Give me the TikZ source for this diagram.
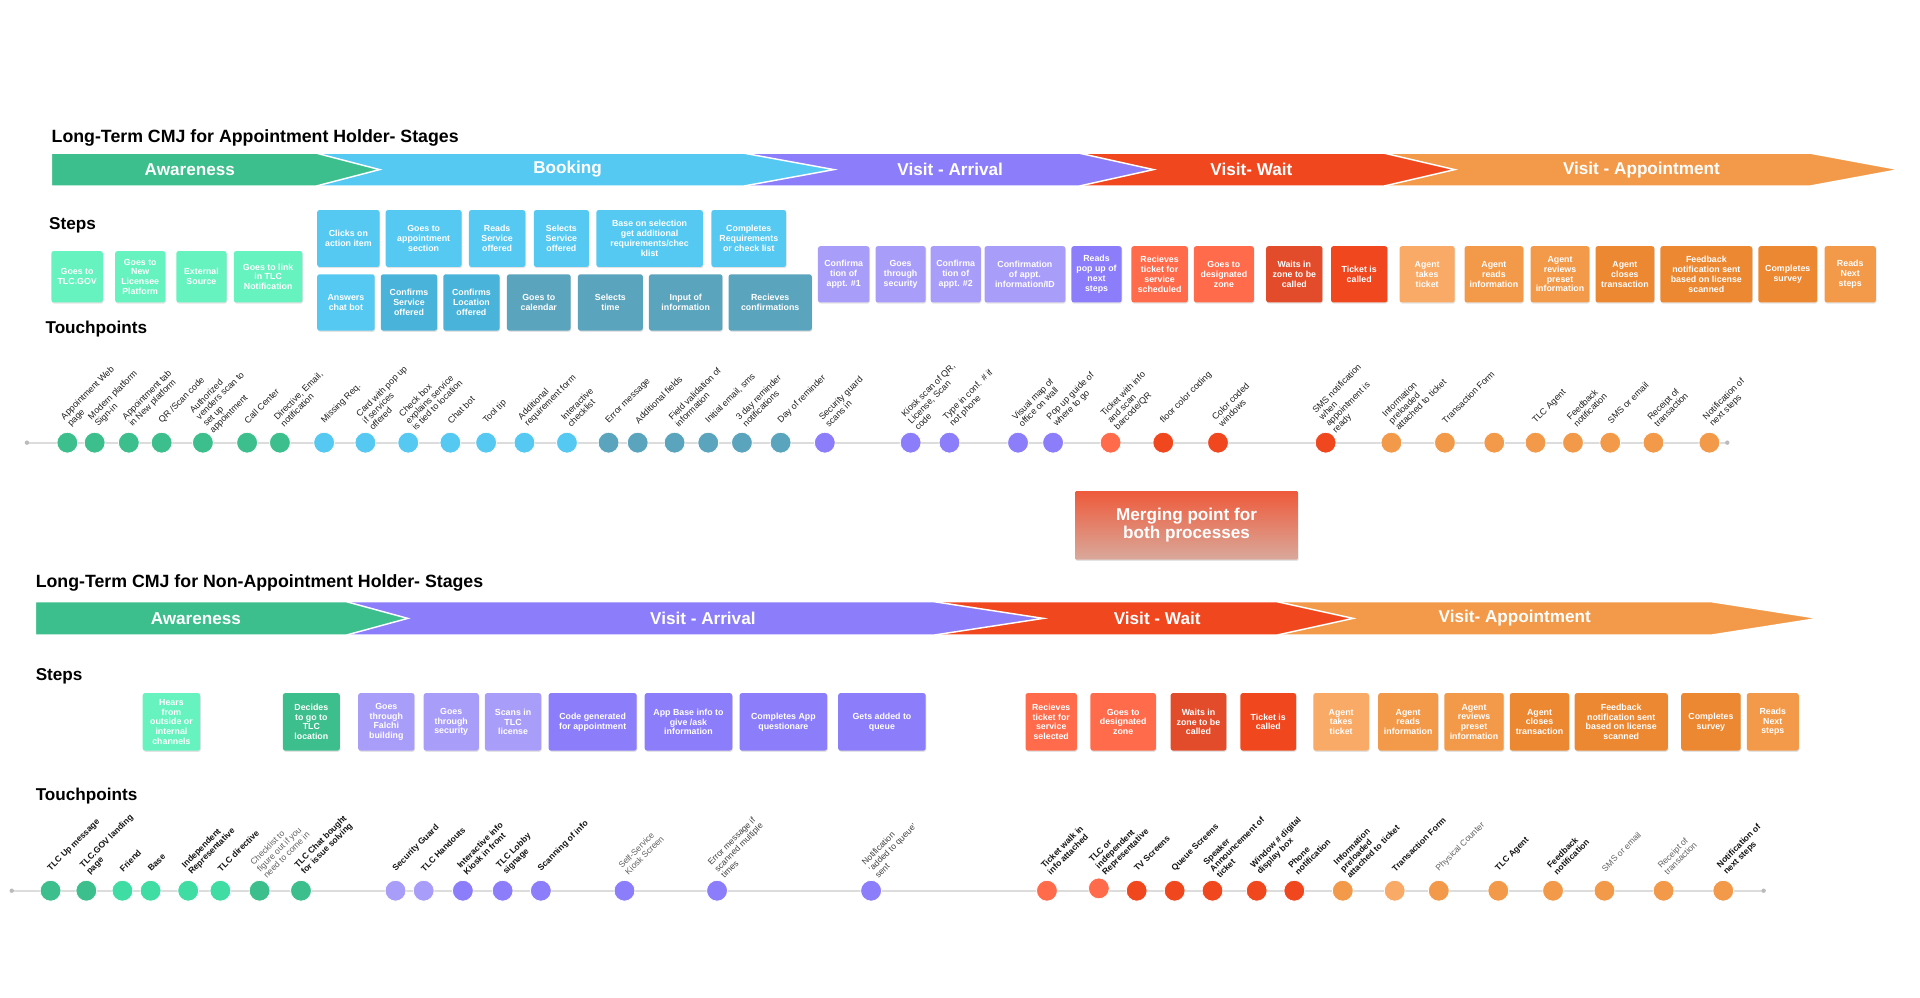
\documentclass[tikz,border=0pt]{standalone}
\usepackage{fontspec}
\setmainfont{Liberation Sans}
\usetikzlibrary{shadows}
\definecolor{cGreen}{HTML}{3CBF8C}
\definecolor{cMint}{HTML}{66F3C0}
\definecolor{cMintDot}{HTML}{3FDCA3}
\definecolor{cBlue}{HTML}{55C9F1}
\definecolor{cMidBlue}{HTML}{4AB3D9}
\definecolor{cTeal}{HTML}{5AA4BD}
\definecolor{cPurple}{HTML}{8C7DFB}
\definecolor{cLPurple}{HTML}{A99DFA}
\definecolor{cCoral}{HTML}{FF6B4B}
\definecolor{cRed}{HTML}{F0471F}
\definecolor{cDRed}{HTML}{E34C2B}
\definecolor{cOrange}{HTML}{F39A4A}
\definecolor{cLOrange}{HTML}{F8AA66}
\definecolor{cDOrange}{HTML}{EC8832}
\definecolor{cLine}{HTML}{DCDCDC}
\definecolor{cDot}{HTML}{BBBBBB}
\definecolor{cMergeTop}{HTML}{EE5A3B}
\definecolor{cMergeBot}{HTML}{D9A99B}
\newcommand\seg[6]{\filldraw[fill=#6,draw=white,line width=1.2pt,line join=miter] (#1,#4) -- (#2,#4) -- (#3,{(#4+#5)/2}) -- (#2,#5) -- (#1,#5) -- cycle;}
\newcommand\stp[7]{\node[stepbox,fill=#2,minimum width={#4-#3},minimum height=#6] (#1) at ({(#3+#4)/2},#5) {#7};}
\newcommand\tpt[6]{\node[tpdot,fill=#4] (#1) at (#2,#3) {};
  \node[#5] (#1l) at ({#2-1.5},{#3-16.5}) {#6};}
\begin{document}
\begin{tikzpicture}[x=1pt,y=-1pt,
  stepbox/.style={rounded corners=2pt, text=white, font=\bfseries\fontsize{7.2}{8}\selectfont, align=center, inner sep=1pt, drop shadow={shadow xshift=0.5pt, shadow yshift=-1pt, opacity=0.22}},
  stagelbl/.style={text=white, font=\bfseries\fontsize{14}{14}\selectfont, inner sep=0},
  heading/.style={anchor=west, font=\bfseries\fontsize{14.5}{15}\selectfont, inner sep=0},
  tpdot/.style={circle, minimum size=17pt, inner sep=0, draw=white, line width=0.6pt},
  tplbl/.style={rotate=45, anchor=west, align=left, inner sep=0.5pt, font=\fontsize{7.3}{7.7}\selectfont, text=black!88},
  tplblb/.style={tplbl, font=\bfseries\fontsize{7}{7.6}\selectfont, text=black!92},
  tplblg/.style={tplbl, font=\fontsize{7}{7.6}\selectfont, text=black!62},
  tplbld/.style={tplbl, font=\fontsize{7}{7.6}\selectfont, text=black!75},
  tpline/.style={draw=cLine, line width=1.5pt}]
\useasboundingbox (0,0) rectangle (1568,815);

% ---------------- TOP: Appointment holder ----------------
\node[heading] (title1) at (42,113) {Long-Term CMJ for Appointment Holder- Stages};
\seg{1130}{1478}{1551}{125}{152}{cOrange}
\seg{881}{1130}{1188}{125}{152}{cRed}
\seg{607}{881}{942}{125}{152}{cPurple}
\seg{258}{607}{681}{125}{152}{cBlue}
\seg{42}{258}{310}{125}{152}{cGreen}
\node[stagelbl] (s1a) at (155,138.5) {Awareness};
\node[stagelbl] (s1b) at (463.5,138.5) {Booking};
\node[stagelbl] (s1c) at (776,138.5) {Visit - Arrival};
\node[stagelbl] (s1d) at (1022,138.5) {Visit- Wait};
\node[stagelbl] (s1e) at (1340.5,138.5) {Visit - Appointment};

\node[heading,font=\bfseries\fontsize{14}{14}\selectfont] (steps1) at (40,184) {Steps};
\node[heading,font=\bfseries\fontsize{14}{14}\selectfont] (touch1) at (37,269) {Touchpoints};

% steps top
\stp{a1}{cMint}{42}{84}{226}{42}{Goes to\\TLC.GOV}
\stp{a2}{cMint}{94}{135}{226}{42}{Goes to\\New\\Licensee\\Platform}
\stp{a3}{cMint}{144}{185}{226}{42}{External\\Source}
\stp{a4}{cMint}{191}{247}{226}{42}{Goes to link\\in TLC\\Notification}
\stp{a5}{cBlue}{259}{310}{194.75}{46.5}{Clicks on\\action item}
\stp{a6}{cBlue}{315}{377}{194.75}{46.5}{Goes to\\appointment\\section}
\stp{a7}{cBlue}{383}{429}{194.75}{46.5}{Reads\\Service\\offered}
\stp{a8}{cBlue}{436}{481}{194.75}{46.5}{Selects\\Service\\offered}
\stp{a9}{cBlue}{487}{574}{194.75}{46.5}{Base on selection\\get additional\\requirements/chec\\klist}
\stp{a10}{cBlue}{581}{642}{194.75}{46.5}{Completes\\Requirements\\or check list}
\stp{a11}{cBlue}{259}{306}{247}{46}{Answers\\chat bot}
\stp{a12}{cMidBlue}{311}{357}{247}{46}{Confirms\\Service\\offered}
\stp{a13}{cMidBlue}{362}{408}{247}{46}{Confirms\\Location\\offered}
\stp{a14}{cTeal}{414}{466}{247}{46}{Goes to\\calendar}
\stp{a15}{cTeal}{472}{525}{247}{46}{Selects\\time}
\stp{a16}{cTeal}{530}{590}{247}{46}{Input of\\information}
\stp{a17}{cTeal}{595}{663}{247}{46}{Recieves\\confirmations}
\stp{a18}{cLPurple}{668}{710}{224}{46}{Confirma\\tion of\\appt. \#1}
\stp{a19}{cLPurple}{715}{756}{224}{46}{Goes\\through\\security}
\stp{a20}{cLPurple}{760}{801}{224}{46}{Confirma\\tion of\\appt. \#2}
\stp{a21}{cLPurple}{804}{870}{224}{46}{Confirmation\\of appt.\\information/ID}
\stp{a22}{cPurple}{875}{916}{224}{46}{Reads\\pop up of\\next\\steps}
\stp{a23}{cCoral}{924}{970}{224}{46}{Recieves\\ticket for\\service\\scheduled}
\stp{a24}{cCoral}{975}{1024}{224}{46}{Goes to\\designated\\zone}
\stp{a25}{cDRed}{1034}{1080}{224}{46}{Waits in\\zone to be\\called}
\stp{a26}{cRed}{1087}{1133}{224}{46}{Ticket is\\called}
\stp{a27}{cLOrange}{1143}{1188}{224}{46}{Agent\\takes\\ticket}
\stp{a28}{cOrange}{1196}{1244}{224}{46}{Agent\\reads\\information}
\stp{a29}{cOrange}{1250}{1298}{224}{46}{Agent\\reviews\\preset\\information}
\stp{a30}{cDOrange}{1303}{1351}{224}{46}{Agent\\closes\\transaction}
\stp{a31}{cDOrange}{1356}{1431}{224}{46}{Feedback\\notification sent\\based on license\\scanned}
\stp{a32}{cDOrange}{1436}{1484}{224}{46}{Completes\\survey}
\stp{a33}{cOrange}{1490}{1532}{224}{46}{Reads\\Next\\steps}

% touchpoints top
\coordinate (ts1) at (22,361.5);
\coordinate (te1) at (1410.6,361.5);
\draw[tpline] (ts1) -- (te1);
\fill[cDot] (ts1) circle (1.8);
\fill[cDot] (te1) circle (1.8);
\tpt{t1}{55}{361.5}{cGreen}{tplbl}{Appointment Web\\page}
\tpt{t2}{77.3}{361.5}{cGreen}{tplbl}{Modern platform\\Sign-in}
\tpt{t3}{105.2}{361.5}{cGreen}{tplbl}{Appointment tab\\in New platform}
\tpt{t4}{132}{361.5}{cGreen}{tplbl}{QR /Scan code}
\tpt{t5}{165.7}{361.5}{cGreen}{tplbl}{Authorized\\venders scan to\\set up\\appointment}
\tpt{t6}{201.8}{361.5}{cGreen}{tplbl}{Call Center}
\tpt{t7}{228.6}{361.5}{cGreen}{tplbl}{Directive, Email,\\notification}
\tpt{t8}{264.7}{361.5}{cBlue}{tplbl}{Missing Req.}
\tpt{t9}{298.4}{361.5}{cBlue}{tplbl}{Card with pop up\\if services\\offered}
\tpt{t10}{333.4}{361.5}{cBlue}{tplbl}{Check box\\explains service\\is tied to location}
\tpt{t11}{367.8}{361.5}{cBlue}{tplbl}{Chat bot}
\tpt{t12}{397}{361.5}{cBlue}{tplbl}{Tool tip}
\tpt{t13}{428.3}{361.5}{cBlue}{tplbl}{Additional\\requirement form}
\tpt{t14}{463}{361.5}{cBlue}{tplbl}{Interactive\\checklist}
\tpt{t15}{497}{361.5}{cTeal}{tplbl}{Error message}
\tpt{t16}{520.8}{361.5}{cTeal}{tplbl}{Additional fields}
\tpt{t17}{550.9}{361.5}{cTeal}{tplbl}{Field validation of\\information}
\tpt{t18}{578.4}{361.5}{cTeal}{tplbl}{Initial email, sms}
\tpt{t19}{605.9}{361.5}{cTeal}{tplbl}{3 day reminder\\notifications}
\tpt{t20}{637.5}{361.5}{cTeal}{tplbl}{Day of reminder}
\tpt{t21}{673.6}{361.5}{cPurple}{tplbl}{Security guard\\scans in}
\tpt{t22}{743.7}{361.5}{cPurple}{tplbl}{Kiosk scan of QR,\\License, Scan\\code}
\tpt{t23}{775.4}{361.5}{cPurple}{tplbl}{Type in conf. \# if\\not phone}
\tpt{t24}{831.4}{361.5}{cPurple}{tplbl}{Visual map of\\office on wall}
\tpt{t25}{860}{361.5}{cPurple}{tplbl}{Pop up guide of\\where to go}
\tpt{t26}{907}{361.5}{cCoral}{tplbl}{Ticket with info\\and scan\\barcode/QR}
\tpt{t27}{950}{361.5}{cRed}{tplbl}{floor color coding}
\tpt{t28}{994.7}{361.5}{cRed}{tplbl}{Color coded\\windows}
\tpt{t29}{1082.6}{361.5}{cRed}{tplbl}{SMS notification\\when\\appointment is\\ready}
\tpt{t30}{1136.3}{361.5}{cOrange}{tplbl}{Information\\preloaded\\attached to ticket}
\tpt{t31}{1180}{361.5}{cOrange}{tplbl}{Transaction Form}
\node[tpdot,fill=cOrange] (t32) at (1220.3,361.5) {};
\tpt{t33}{1254}{361.5}{cOrange}{tplbl}{TLC Agent}
\tpt{t34}{1284.6}{361.5}{cOrange}{tplbl}{Feedback\\notification}
\tpt{t35}{1315}{361.5}{cOrange}{tplbl}{SMS or email}
\tpt{t36}{1350.3}{361.5}{cOrange}{tplbl}{Receipt of\\transaction}
\tpt{t37}{1396}{361.5}{cOrange}{tplbl}{Notification of\\next steps}

% merging point
\node[rounded corners=1pt, top color=cMergeTop, bottom color=cMergeBot, minimum width=182, minimum height=56, text=white, align=center, font=\bfseries\fontsize{14}{15}\selectfont, inner sep=0, drop shadow={shadow xshift=0.5pt, shadow yshift=-1pt, opacity=0.22}] (merge) at (969,429) {Merging point for\\both processes};

% ---------------- BOTTOM: Non-appointment holder ----------------
\node[heading] (title2) at (29,476) {Long-Term CMJ for Non-Appointment Holder- Stages};
\seg{1043}{1398}{1485}{491.4}{518.6}{cOrange}
\seg{763}{1043}{1105}{491.4}{518.6}{cRed}
\seg{283}{763}{852}{491.4}{518.6}{cPurple}
\seg{29}{283}{333}{491.4}{518.6}{cGreen}
\node[stagelbl] (s2a) at (160,505) {Awareness};
\node[stagelbl] (s2b) at (574,505) {Visit - Arrival};
\node[stagelbl] (s2c) at (945,505) {Visit - Wait};
\node[stagelbl] (s2d) at (1237,505) {Visit- Appointment};

\node[heading,font=\bfseries\fontsize{14}{14}\selectfont] (steps2) at (29,552) {Steps};
\node[heading,font=\bfseries\fontsize{14}{14}\selectfont] (touch2) at (29,650) {Touchpoints};

\stp{b1}{cMint}{116.5}{163.5}{589.5}{47}{Hears\\from\\outside or\\internal\\channels}
\stp{b2}{cGreen}{231}{277.5}{589.5}{47}{Decides\\to go to\\TLC\\location}
\stp{b3}{cLPurple}{292.5}{338.5}{589.5}{47}{Goes\\through\\Falchi\\building}
\stp{b4}{cLPurple}{346}{391}{589.5}{47}{Goes\\through\\security}
\stp{b5}{cLPurple}{396}{442}{589.5}{47}{Scans in\\TLC\\license}
\stp{b6}{cPurple}{448}{520}{589.5}{47}{Code generated\\for appointment}
\stp{b7}{cPurple}{526.5}{598}{589.5}{47}{App Base info to\\give /ask\\information}
\stp{b8}{cPurple}{604}{675.5}{589.5}{47}{Completes App\\questionare}
\stp{b9}{cPurple}{684.5}{756}{589.5}{47}{Gets added to\\queue}
\stp{b10}{cCoral}{837.5}{879.5}{589.5}{47}{Recieves\\ticket for\\service\\selected}
\stp{b11}{cCoral}{890.5}{944}{589.5}{47}{Goes to\\designated\\zone}
\stp{b12}{cDRed}{956}{1001.5}{589.5}{47}{Waits in\\zone to be\\called}
\stp{b13}{cRed}{1013}{1058.5}{589.5}{47}{Ticket is\\called}
\stp{b14}{cLOrange}{1072.5}{1118}{589.5}{47}{Agent\\takes\\ticket}
\stp{b15}{cOrange}{1125.5}{1174.5}{589.5}{47}{Agent\\reads\\information}
\stp{b16}{cOrange}{1179.5}{1228}{589.5}{47}{Agent\\reviews\\preset\\information}
\stp{b17}{cDOrange}{1233}{1281.5}{589.5}{47}{Agent\\closes\\transaction}
\stp{b18}{cDOrange}{1286}{1362}{589.5}{47}{Feedback\\notification sent\\based on license\\scanned}
\stp{b19}{cDOrange}{1373}{1421.5}{589.5}{47}{Completes\\survey}
\stp{b20}{cOrange}{1426.5}{1469}{589.5}{47}{Reads\\Next\\steps}

\coordinate (ts2) at (9.6,727.4);
\coordinate (te2) at (1440.3,727.4);
\draw[tpline] (ts2) -- (te2);
\fill[cDot] (ts2) circle (1.8);
\fill[cDot] (te2) circle (1.8);
\tpt{u1}{41.3}{727.4}{cGreen}{tplblb}{TLC Up message}
\tpt{u2}{70.5}{727.4}{cGreen}{tplblb}{TLC.GOV landing\\page}
\tpt{u3}{100}{727.4}{cMintDot}{tplblb}{Friend}
\tpt{u4}{123}{727.4}{cMintDot}{tplblb}{Base}
\tpt{u5}{153.7}{727.4}{cMintDot}{tplblb}{Independent\\Representative}
\tpt{u6}{180}{727.4}{cMintDot}{tplblb}{TLC directive}
\tpt{u7}{212}{727.4}{cGreen}{tplblg}{Checklist to\\figure out if you\\need to come in}
\tpt{u8}{245.8}{727.4}{cGreen}{tplblb}{TLC Chat bought\\for issue solving}
\tpt{u9}{323}{727.4}{cLPurple}{tplblb}{Security Guard}
\tpt{u10}{346}{727.4}{cLPurple}{tplblb}{TLC Handouts}
\tpt{u11}{378}{727.4}{cPurple}{tplblb}{Interactive info\\Kiosk in front}
\tpt{u12}{410.5}{727.4}{cPurple}{tplblb}{TLC Lobby\\signage}
\tpt{u13}{441.7}{727.4}{cPurple}{tplblb}{Scanning of info}
\tpt{u14}{510}{727.4}{cPurple}{tplblg}{Self-Service\\Kiosk Screen}
\tpt{u15}{585.6}{727.4}{cPurple}{tplbld}{Error message if\\scanned multiple\\times}
\tpt{u16}{711.4}{727.4}{cPurple}{tplbld}{Notification\\`added to queue'\\sent}
\tpt{u17}{855}{727.4}{cCoral}{tplblb}{Ticket walk in\\info attached}
\tpt{u18}{897.4}{725.5}{cCoral}{tplblb}{TLC or\\independent\\Representative}
\tpt{u19}{928.3}{727.4}{cRed}{tplblb}{TV Screens}
\tpt{u20}{959.3}{727.4}{cRed}{tplblb}{Queue Screens}
\tpt{u21}{990.2}{727.4}{cRed}{tplblb}{Speaker\\Announcement of\\ticket}
\tpt{u22}{1026.3}{727.4}{cRed}{tplblb}{Window \# digital\\display box}
\tpt{u23}{1057}{727.4}{cRed}{tplblb}{Phone\\notification}
\tpt{u24}{1096.6}{727.4}{cOrange}{tplblb}{Information\\preloaded\\attached to ticket}
\tpt{u25}{1139}{727.4}{cLOrange}{tplblb}{Transaction Form}
\tpt{u26}{1175}{727.4}{cOrange}{tplblg}{Physical Counter}
\tpt{u27}{1223.6}{727.4}{cOrange}{tplblb}{TLC Agent}
\tpt{u28}{1268.3}{727.4}{cOrange}{tplblb}{Feedback\\notification}
\tpt{u29}{1310.3}{727.4}{cOrange}{tplblg}{SMS or email}
\tpt{u30}{1358.6}{727.4}{cOrange}{tplblg}{Receipt of\\transaction}
\tpt{u31}{1407.3}{727.4}{cOrange}{tplblb}{Notification of\\next steps}
\end{tikzpicture}
\end{document}
